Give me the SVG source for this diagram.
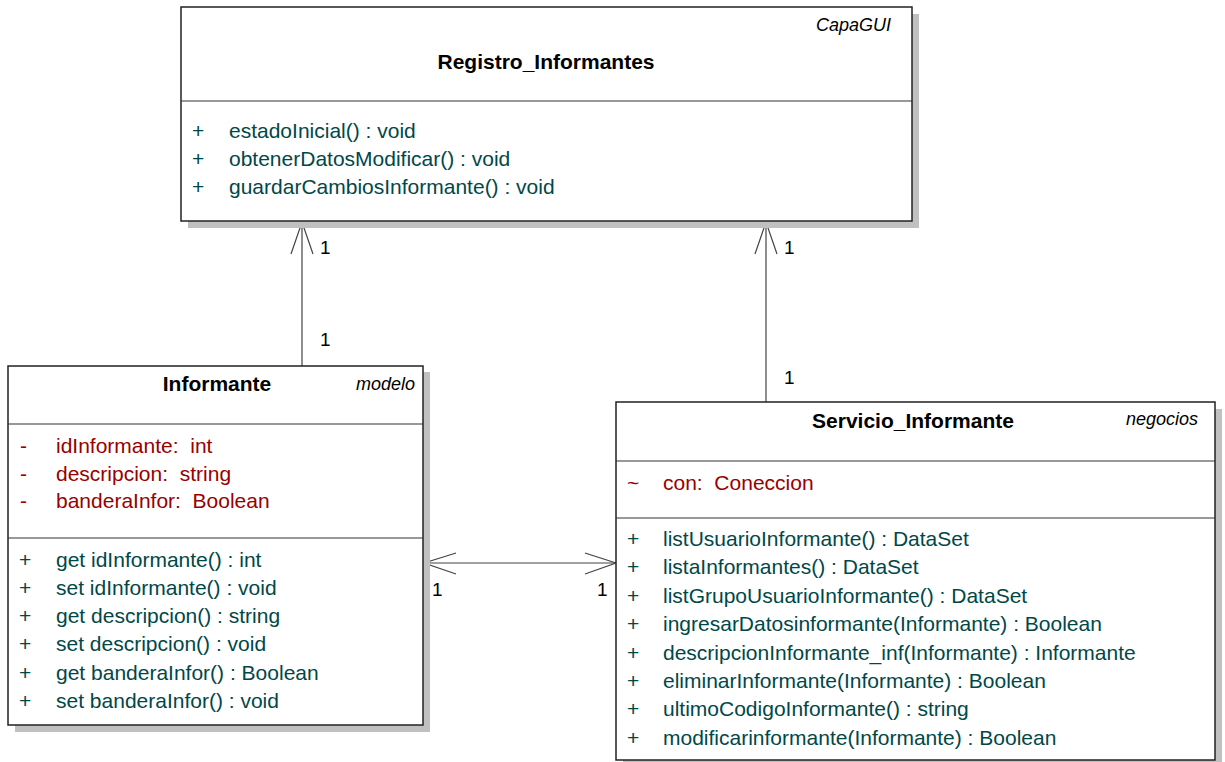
<svg xmlns="http://www.w3.org/2000/svg" width="1225" height="762" viewBox="0 0 1225 762">
  <style>
    text { font-family: "Liberation Sans", Arial, sans-serif; white-space: pre; }
    .box { fill: #ffffff; stroke: #222222; stroke-width: 1.5; }
    .shadow { fill: #c0c0c0; stroke: none; }
    .sep { stroke: #333333; stroke-width: 1.2; }
    .title { font-size: 21px; font-weight: bold; fill: #000000; text-anchor: middle; }
    .stereo { font-size: 18px; font-style: italic; fill: #000000; text-anchor: end; }
    .attr { font-size: 21px; fill: #990000; }
    .op { font-size: 21px; fill: #004848; }
    .edge { fill: none; stroke: #444444; stroke-width: 1.2; }
    .mult { font-size: 19px; fill: #000000; }
  </style>

  <!-- connectors between classes -->
  <g id="connectors">
    <!-- Informante -> Registro_Informantes -->
    <path class="edge" d="M302,366 L302,222"/>
    <path class="edge" d="M291,254 L302,222 L313,254"/>
    <text class="mult" x="320" y="254">1</text>
    <text class="mult" x="320" y="346">1</text>

    <!-- Servicio_Informante -> Registro_Informantes -->
    <path class="edge" d="M766,402 L766,222"/>
    <path class="edge" d="M755,254 L766,222 L777,254"/>
    <text class="mult" x="784" y="254">1</text>
    <text class="mult" x="784" y="384">1</text>

    <!-- Informante <-> Servicio_Informante -->
    <path class="edge" d="M424,563 L616,563"/>
    <path class="edge" d="M456,553 L424,563 L456,574"/>
    <path class="edge" d="M585,553 L616,563 L585,574"/>
    <text class="mult" x="432" y="596">1</text>
    <text class="mult" x="597" y="596">1</text>
  </g>

  <!-- GUI layer class -->
  <g id="registro-informantes">
    <rect class="shadow" x="188" y="14" width="731" height="214"/>
    <rect class="box" x="181" y="7" width="731" height="214"/>
    <line class="sep" x1="181" y1="101" x2="912" y2="101"/>
    <text class="stereo" x="891" y="31">CapaGUI</text>
    <text class="title" x="546" y="69">Registro_Informantes</text>
    <text class="op" x="192" y="138">+</text>
    <text class="op" x="229" y="138">estadoInicial() : void</text>
    <text class="op" x="192" y="166">+</text>
    <text class="op" x="229" y="166">obtenerDatosModificar() : void</text>
    <text class="op" x="192" y="194">+</text>
    <text class="op" x="229" y="194">guardarCambiosInformante() : void</text>
  </g>

  <!-- model class -->
  <g id="informante">
    <rect class="shadow" x="15" y="372" width="415" height="360"/>
    <rect class="box" x="8" y="366" width="415" height="359"/>
    <line class="sep" x1="8" y1="424" x2="423" y2="424"/>
    <line class="sep" x1="8" y1="538" x2="423" y2="538"/>
    <text class="title" x="217" y="391">Informante</text>
    <text class="stereo" x="415" y="390">modelo</text>
    <text class="attr" x="20" y="453">-</text>
    <text class="attr" x="56" y="453">idInformante:  int</text>
    <text class="attr" x="20" y="481">-</text>
    <text class="attr" x="56" y="481">descripcion:  string</text>
    <text class="attr" x="20" y="508">-</text>
    <text class="attr" x="56" y="508">banderaInfor:  Boolean</text>
    <text class="op" x="19" y="567">+</text>
    <text class="op" x="56" y="567">get idInformante() : int</text>
    <text class="op" x="19" y="595">+</text>
    <text class="op" x="56" y="595">set idInformante() : void</text>
    <text class="op" x="19" y="623">+</text>
    <text class="op" x="56" y="623">get descripcion() : string</text>
    <text class="op" x="19" y="651">+</text>
    <text class="op" x="56" y="651">set descripcion() : void</text>
    <text class="op" x="19" y="680">+</text>
    <text class="op" x="56" y="680">get banderaInfor() : Boolean</text>
    <text class="op" x="19" y="708">+</text>
    <text class="op" x="56" y="708">set banderaInfor() : void</text>
  </g>

  <!-- business layer class -->
  <g id="servicio-informante">
    <rect class="shadow" x="623" y="409" width="599" height="360"/>
    <rect class="box" x="616" y="402" width="599" height="358"/>
    <line class="sep" x1="616" y1="461" x2="1215" y2="461"/>
    <line class="sep" x1="616" y1="518" x2="1215" y2="518"/>
    <text class="title" x="913" y="428">Servicio_Informante</text>
    <text class="stereo" x="1198" y="425">negocios</text>
    <text class="attr" x="627" y="490">~</text>
    <text class="attr" x="663" y="490">con:  Coneccion</text>
    <text class="op" x="627" y="546">+</text>
    <text class="op" x="663" y="546">listUsuarioInformante() : DataSet</text>
    <text class="op" x="627" y="574">+</text>
    <text class="op" x="663" y="574">listaInformantes() : DataSet</text>
    <text class="op" x="627" y="603">+</text>
    <text class="op" x="663" y="603">listGrupoUsuarioInformante() : DataSet</text>
    <text class="op" x="627" y="631">+</text>
    <text class="op" x="663" y="631">ingresarDatosinformante(Informante) : Boolean</text>
    <text class="op" x="627" y="660">+</text>
    <text class="op" x="663" y="660">descripcionInformante_inf(Informante) : Informante</text>
    <text class="op" x="627" y="688">+</text>
    <text class="op" x="663" y="688">eliminarInformante(Informante) : Boolean</text>
    <text class="op" x="627" y="716">+</text>
    <text class="op" x="663" y="716">ultimoCodigoInformante() : string</text>
    <text class="op" x="627" y="745">+</text>
    <text class="op" x="663" y="745">modificarinformante(Informante) : Boolean</text>
  </g>
</svg>
